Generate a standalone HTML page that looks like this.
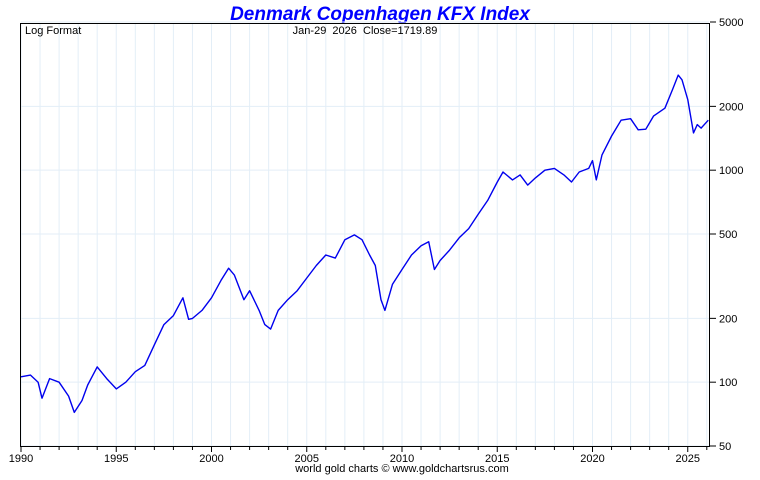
<!DOCTYPE html>
<html><head><meta charset="utf-8"><style>
body{margin:0;background:#fff;width:760px;height:475px;overflow:hidden;font-family:"Liberation Sans",sans-serif}
text{white-space:pre}
</style></head><body>
<svg width="760" height="475" xmlns="http://www.w3.org/2000/svg" font-family="Liberation Sans, sans-serif">
<text x="380" y="20" text-anchor="middle" font-size="19" font-weight="bold" font-style="italic" fill="#0000ff">Denmark Copenhagen KFX Index</text>
<g id="grid"></g>
<g id="ticks"></g>
<polyline id="line" fill="none" stroke="#0000ee" stroke-width="1.4" stroke-linejoin="round"/>
<rect x="20.5" y="23.5" width="689" height="423" fill="none" stroke="#000"/>
<text x="25" y="34" font-size="11">Log Format</text>
<text x="365" y="34" font-size="11" text-anchor="middle" xml:space="preserve">Jan-29  2026  Close=1719.89</text>
<text x="402" y="472" font-size="11" text-anchor="middle">world gold charts © www.goldchartsrus.com</text>
</svg>
<script>
const years=[1990,1990.5,1990.9,1991.1,1991.5,1992,1992.5,1992.8,1993.2,1993.5,1994,1994.5,1995,1995.5,1996,1996.5,1997,1997.5,1998,1998.5,1998.8,1999,1999.5,2000,2000.5,2000.9,2001.2,2001.7,2002,2002.5,2002.8,2003.1,2003.5,2004,2004.5,2005,2005.5,2006,2006.5,2007,2007.5,2007.9,2008.3,2008.6,2008.9,2009.1,2009.5,2010,2010.5,2011,2011.4,2011.7,2012,2012.5,2013,2013.5,2014,2014.5,2015,2015.3,2015.8,2016.2,2016.6,2017,2017.5,2018,2018.5,2018.9,2019.3,2019.8,2020,2020.2,2020.5,2021,2021.5,2022,2022.4,2022.8,2023.2,2023.8,2024.2,2024.5,2024.7,2025,2025.3,2025.5,2025.7,2026.08];
const values=[106,108,100,84,104,100,86,72,82,97,118,104,93,100,112,120,150,187,206,250,198,200,218,250,302,345,320,245,270,218,187,178,218,245,270,310,355,398,385,470,495,470,398,355,245,218,290,340,398,440,460,340,375,420,480,530,620,720,880,980,900,950,850,920,1000,1020,950,880,980,1020,1110,900,1180,1450,1720,1750,1550,1560,1800,1960,2400,2810,2670,2150,1500,1640,1580,1720];
const yTicks=[50,100,200,500,1000,2000,5000];
const xLabels=[1990,1995,2000,2005,2010,2015,2020,2025];
const NS="http://www.w3.org/2000/svg";
function xs(y){return 21+(y-1990)*19.05;}
function ys(v){return 446-(Math.log10(v)-Math.log10(50))*212;}
const grid=document.getElementById('grid'),ticks=document.getElementById('ticks');
for(let y=1990;y<=2026;y++){
 const l=document.createElementNS(NS,'line');
 
 
 l.setAttribute('x1',xs(y));l.setAttribute('x2',xs(y));l.setAttribute('y1',24);l.setAttribute('y2',446);
 l.setAttribute('stroke','#e3eef7');grid.appendChild(l);
 const t=document.createElementNS(NS,'line');
 
 
 t.setAttribute('x1',xs(y));t.setAttribute('x2',xs(y));t.setAttribute('y1',446);t.setAttribute('y2',y%5===0?452:450);
 t.setAttribute('stroke','#000');ticks.appendChild(t);
}
for(const v of yTicks){
 const l=document.createElementNS(NS,'line');
 
 
 l.setAttribute('x1',21);l.setAttribute('x2',709);l.setAttribute('y1',ys(v));l.setAttribute('y2',ys(v));
 l.setAttribute('stroke','#e3eef7');grid.appendChild(l);
 const t=document.createElementNS(NS,'line');
 
 
 t.setAttribute('x1',710);t.setAttribute('x2',716);t.setAttribute('y1',ys(v));t.setAttribute('y2',ys(v));
 t.setAttribute('stroke','#000');ticks.appendChild(t);
 const tx=document.createElementNS(NS,'text');
 
 
 tx.setAttribute('x',719);tx.setAttribute('y',ys(v)+4);tx.setAttribute('font-size','11');
 tx.textContent=v;ticks.appendChild(tx);
}
for(const y of xLabels){
 const tx=document.createElementNS(NS,'text');
 
 
 tx.setAttribute('x',xs(y));tx.setAttribute('y',462);tx.setAttribute('font-size','11');tx.setAttribute('text-anchor','middle');
 tx.textContent=y;ticks.appendChild(tx);
}
document.getElementById('line').setAttribute('points',years.map((y,i)=>xs(y).toFixed(1)+','+ys(values[i]).toFixed(1)).join(' '));
</script>
</body></html>
